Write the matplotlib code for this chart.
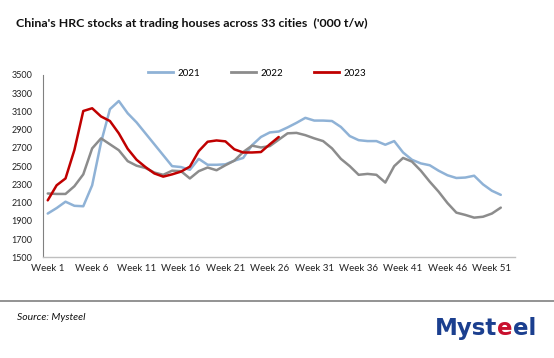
import matplotlib
matplotlib.use("Agg")
import matplotlib.pyplot as plt
from matplotlib.lines import Line2D

weeks_2021 = list(range(1, 53))
values_2021 = [1980, 2040, 2110, 2065, 2060, 2290, 2760, 3125, 3215, 3080,
               2980, 2860, 2740, 2620, 2500, 2490, 2460, 2580, 2515, 2515,
               2520, 2560, 2590, 2730, 2820, 2870, 2880, 2925, 2975, 3030,
               3000, 3000, 2995, 2930, 2830, 2785, 2775, 2775, 2735, 2775,
               2650, 2570, 2530, 2510, 2450, 2400, 2370, 2375, 2395, 2300,
               2230, 2185]
weeks_2022 = list(range(1, 53))
values_2022 = [2200, 2195, 2195, 2280, 2410, 2695, 2805, 2740, 2675, 2555,
               2505, 2480, 2430, 2405, 2450, 2445, 2365, 2445, 2485, 2455,
               2510, 2560, 2655, 2725, 2705, 2720, 2790, 2860, 2865, 2840,
               2805, 2775, 2695, 2580, 2500, 2405, 2415, 2405, 2320, 2500,
               2590, 2550, 2450, 2330, 2220, 2095, 1990, 1965, 1935, 1945,
               1980, 2045]
weeks_2023 = list(range(1, 28))
values_2023 = [2125, 2290, 2365, 2677, 3105, 3135, 3045, 2995, 2860, 2690,
               2570, 2490, 2420, 2385, 2410, 2440, 2495, 2665, 2768, 2782,
               2772, 2685, 2650, 2650, 2655, 2740, 2820]

series_labels = ["2021", "2022", "2023"]
x_ticks = [1, 6, 11, 16, 21, 26, 31, 36, 41, 46, 51]
x_tick_labels = ["Week %d" % w for w in x_ticks]
y_ticks = list(range(1500, 3501, 200))

plt.rcParams['font.family'] = ['Lato', 'DejaVu Sans']

W, H = 554, 358
fig = plt.figure(figsize=(W / 100, H / 100), dpi=100)
ax = fig.add_axes([43.3 / W, 1 - 257.3 / H, (515 - 43.3) / W, (257.3 - 75) / H])

colors = ["#8FB2D6", "#8C8C8C", "#C00000"]
for xs, ys, c, lab, lw in [(weeks_2021, values_2021, colors[0], series_labels[0], 1.8),
                           (weeks_2022, values_2022, colors[1], series_labels[1], 1.8),
                           (weeks_2023, values_2023, colors[2], series_labels[2], 1.8)]:
    ax.plot(xs, ys, color=c, lw=lw, label=lab, solid_joinstyle='round', solid_capstyle='round')

ax.set_xlim(0.5, 53.6)
ax.set_ylim(1500, 3500)
ax.set_yticks(y_ticks)
ax.set_yticklabels([str(v) for v in y_ticks], fontsize=6.5, color="#222222")
ax.set_xticks(x_ticks)
ax.set_xticklabels(x_tick_labels, fontsize=7, color="#222222")
ax.tick_params(length=0, pad=5)
ax.tick_params(axis='y', pad=8)
for s in ["top", "right"]:
    ax.spines[s].set_visible(False)
ax.spines["left"].set_color("#808080")
ax.spines["bottom"].set_color("#BFBFBF")
ax.spines["left"].set_linewidth(0.8)
ax.spines["bottom"].set_linewidth(1.0)

handles = [Line2D([0], [0], color=c, lw=2) for c in colors]
fig.legend(handles, series_labels, loc="center", bbox_to_anchor=(257 / W, 1 - 73 / H),
           ncol=3, frameon=False, fontsize=7, handlelength=2.6, columnspacing=3.2,
           handletextpad=0.4)

fig.text(16 / W, 1 - 23 / H, "China's HRC stocks at trading houses across 33 cities  ('000 t/w)",
         fontsize=8.9, fontweight='bold', va='center', ha='left', color="#111111")

fig.add_artist(Line2D([0, 1], [1 - 301 / H, 1 - 301 / H], color="#808080", lw=1.2,
                      transform=fig.transFigure))
fig.text(17 / W, 1 - 318 / H, "Source: Mysteel", fontsize=7.5, style='italic',
         va='center', ha='left', color="#111111")

# logo text
logo_blue = "#1B3F8F"
logo_font = dict(fontsize=16.5, fontweight='bold', family='DejaVu Sans', va='baseline', ha='left')
t1 = fig.text(435 / W, 1 - 335 / H, "Myst", color=logo_blue, **logo_font)
fig.canvas.draw()
bb = t1.get_window_extent()
t2 = fig.text(bb.x1 / W, 1 - 335 / H, "e", color="#C8102E", **logo_font)
fig.canvas.draw()
bb2 = t2.get_window_extent()
fig.text(bb2.x1 / W, 1 - 335 / H, "el", color=logo_blue, **logo_font)

fig.savefig("out.png", dpi=100)
